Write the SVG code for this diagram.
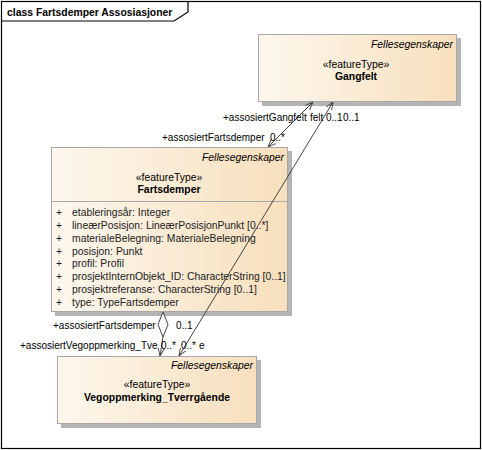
<svg xmlns="http://www.w3.org/2000/svg" width="482" height="450" viewBox="0 0 482 450">
<defs>
<linearGradient id="g" x1="0" y1="0" x2="1" y2="0">
<stop offset="0" stop-color="#FDF7EE"/>
<stop offset="1" stop-color="#F7DFBC"/>
</linearGradient>
<marker id="arr" viewBox="0 0 10 10" refX="10" refY="5" markerWidth="8" markerHeight="8" markerUnits="userSpaceOnUse" orient="auto">
<path d="M0,1 L10,5 L0,9" fill="none" stroke="#444" stroke-width="1.2"/>
</marker>
<marker id="arrs" viewBox="0 0 10 10" refX="10" refY="5" markerWidth="8" markerHeight="8" markerUnits="userSpaceOnUse" orient="auto-start-reverse">
<path d="M0,1 L10,5 L0,9" fill="none" stroke="#444" stroke-width="1.2"/>
</marker>
</defs>
<style>
text{font-family:"Liberation Sans",Arial,sans-serif;fill:#000}
.box{fill:url(#g);stroke:#A8A8A8;stroke-width:1}
.sh{fill:#B4B4B4}
.it{font-style:italic;font-size:10.4px;text-anchor:end}
.st{font-size:10.4px;text-anchor:middle}
.nm{font-size:10.4px;font-weight:bold;text-anchor:middle}
.at{font-size:10.4px;fill:#222}
.lb{font-size:10px}
.ln{stroke:#444;stroke-width:1;fill:none}
</style>
<rect x="0" y="0" width="482" height="450" fill="#fff"/>
<g id="frame">
<rect x="1.5" y="1.5" width="479" height="447" fill="none" stroke="#000" stroke-width="1.2"/>
<path d="M1.5,21 H174 L188,12 V1.5" fill="none" stroke="#000" stroke-width="1.2"/>
<text x="7" y="16" style="font-size:10.4px;font-weight:bold">class Fartsdemper Assosiasjoner</text>
</g>
<g id="Gangfelt">
<rect class="sh" x="262" y="38" width="199" height="68"/>
<rect class="box" x="258.5" y="34.5" width="198" height="67"/>
<text class="it" x="453" y="48">Fellesegenskaper</text>
<text class="st" x="356" y="68">«featureType»</text>
<text class="nm" x="356" y="80">Gangfelt</text>
</g>
<g id="Fartsdemper">
<rect class="sh" x="55" y="151" width="237" height="165"/>
<rect class="box" x="51.5" y="147.5" width="236" height="164"/>
<line x1="51.5" y1="201.5" x2="287.5" y2="201.5" stroke="#A8A8A8"/>
<text class="it" x="284" y="161">Fellesegenskaper</text>
<text class="st" x="169" y="181">«featureType»</text>
<text class="nm" x="169" y="193">Fartsdemper</text>
<g class="at">
<text class="at" x="56" y="216">+</text><text class="at" x="72" y="216">etableringsår: Integer</text>
<text class="at" x="56" y="229">+</text><text class="at" x="72" y="229">lineærPosisjon: LineærPosisjonPunkt [0..*]</text>
<text class="at" x="56" y="242">+</text><text class="at" x="72" y="242">materialeBelegning: MaterialeBelegning</text>
<text class="at" x="56" y="255">+</text><text class="at" x="72" y="255">posisjon: Punkt</text>
<text class="at" x="56" y="267">+</text><text class="at" x="72" y="267">profil: Profil</text>
<text class="at" x="56" y="280">+</text><text class="at" x="72" y="280">prosjektInternObjekt_ID: CharacterString [0..1]</text>
<text class="at" x="56" y="293">+</text><text class="at" x="72" y="293">prosjektreferanse: CharacterString [0..1]</text>
<text class="at" x="56" y="306">+</text><text class="at" x="72" y="306">type: TypeFartsdemper</text>
</g>
</g>
<g id="Vegoppmerking_Tverrgaende">
<rect class="sh" x="61" y="360" width="200" height="68"/>
<rect class="box" x="57.5" y="356.5" width="199" height="67"/>
<text class="it" x="253" y="369">Fellesegenskaper</text>
<text class="st" x="157" y="388">«featureType»</text>
<text class="nm" x="157" y="401">Vegoppmerking_Tverrgående</text>
</g>
<g id="connectors">
<line class="ln" x1="268" y1="147" x2="313" y2="102" marker-start="url(#arrs)" marker-end="url(#arr)"/>
<line class="ln" x1="179" y1="356" x2="333" y2="102" marker-start="url(#arrs)" marker-end="url(#arr)"/>
<path d="M163,312 L168,324.5 L163,337 L158,324.5 Z" fill="#fff" stroke="#444" stroke-width="1"/>
<line class="ln" x1="163" y1="337" x2="160" y2="356" marker-end="url(#arr)"/>
<text class="lb" x="223" y="121">+assosiertGangfelt</text>
<text class="lb" x="310" y="121">felt</text>
<text class="lb" x="326" y="121">0..1</text>
<text class="lb" x="343" y="121">0..1</text>
<text class="lb" x="162" y="141">+assosiertFartsdemper</text>
<text class="lb" x="270" y="141">0..*</text>
<text class="lb" x="53" y="329">+assosiertFartsdemper</text>
<text class="lb" x="176" y="329">0..1</text>
<text class="lb" x="20" y="349">+assosiertVegoppmerking_Tve</text>
<text class="lb" x="161" y="349">0..*</text>
<text class="lb" x="181" y="349">0..*</text>
<text class="lb" x="199" y="349">e</text>
</g>
</svg>
